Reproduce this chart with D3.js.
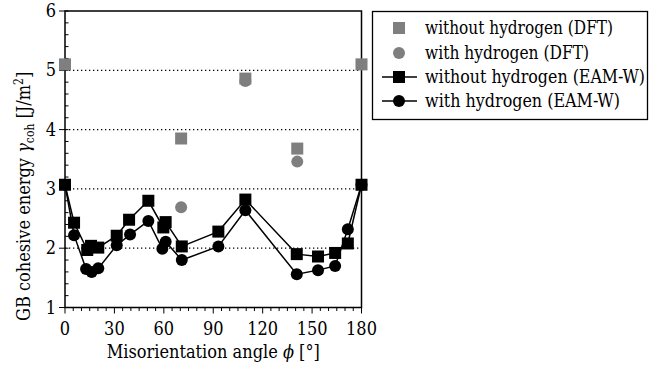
<!DOCTYPE html>
<html>
<head>
<meta charset="utf-8">
<title>GB cohesive energy</title>
<style>
	body{margin:0;background:#fff;}
</style>
</head>
<body>
<div id="chart"></div>
<script src="https://d3js.org/d3.v7.min.js"></script>
<script type="text/javascript">

// DFT points
var dftNoHAngle = [0, 70.5, 109.5, 141, 180],
	dftNoH = [5.1, 3.85, 4.86, 3.68, 5.1],
	dftHAngle = [70.5, 109.5, 141],
	dftH = [2.69, 4.82, 3.46];

// EAM-W curves
var eamAngle = [0, 5.5, 13.5, 15.8, 20.2, 31.4, 38.9, 50.6, 59.7, 61.1, 70.9, 93.1, 109.5, 140.7, 153.6, 164, 171.7, 180],
	eamNoH = [3.07, 2.43, 1.97, 2.04, 2.01, 2.21, 2.48, 2.80, 2.35, 2.44, 2.03, 2.28, 2.82, 1.90, 1.86, 1.92, 2.08, 3.07],
	eamHAngle = [0, 5.5, 12.8, 16.2, 20.2, 31.4, 39.5, 50.6, 59.1, 61.1, 70.9, 93.1, 109.5, 140.7, 153.6, 164, 171.7, 180],
	eamH = [3.07, 2.22, 1.65, 1.60, 1.66, 2.05, 2.23, 2.46, 1.99, 2.11, 1.80, 2.03, 2.64, 1.56, 1.63, 1.70, 2.32, 3.07];

var xTicks = [0, 30, 60, 90, 120, 150, 180],
	yTicks = [1, 2, 3, 4, 5, 6],
	gridVals = [2, 3, 4, 5];

var legendLabels = ['without hydrogen (DFT)', 'with hydrogen (DFT)', 'without hydrogen (EAM-W)', 'with hydrogen (EAM-W)'],
	legendWidths = [188, 164, 220, 195];

var W = 649, H = 369,
	gray = '#7f7f7f',
	serif = "'DejaVu Serif Condensed', 'DejaVu Serif'";

var svg = d3.select('#chart').append('svg').attr('width', W).attr('height', H)
	.style('font-family', serif);

var x = d3.scaleLinear().domain([0, 180]).range([65, 361.5]),
	y = d3.scaleLinear().domain([1, 6]).range([307.5, 11]);

// dotted grid
svg.append('g').selectAll('line').data(gridVals).enter().append('line')
	.attr('x1', x(0)).attr('x2', x(180))
	.attr('y1', function(d){ return y(d); }).attr('y2', function(d){ return y(d); })
	.attr('stroke', '#000').attr('stroke-width', 1.3).attr('stroke-dasharray', '1.3,2.7');

// minor ticks
var xMinor = d3.range(0, 181, 5), yMinor = d3.range(1, 6.01, 0.2);
svg.append('g').selectAll('line').data(xMinor).enter().append('line')
	.attr('x1', function(d){ return x(d); }).attr('x2', function(d){ return x(d); })
	.attr('y1', y(1)).attr('y2', function(d){ return d % 30 === 0 ? y(1) + 6 : y(1) + 3.5; })
	.attr('stroke', '#000').attr('stroke-width', 1);
svg.append('g').selectAll('line').data(yMinor).enter().append('line')
	.attr('y1', function(d){ return y(d); }).attr('y2', function(d){ return y(d); })
	.attr('x1', function(d){ return Math.abs(d - Math.round(d)) < 1e-6 ? x(0) - 6 : x(0); })
	.attr('x2', x(0) + 3.5)
	.attr('stroke', '#000').attr('stroke-width', 1);

// frame
svg.append('rect').attr('x', x(0)).attr('y', y(6))
	.attr('width', x(180) - x(0)).attr('height', y(1) - y(6))
	.attr('fill', 'none').attr('stroke', '#000').attr('stroke-width', 1.5);

// tick labels
svg.append('g').selectAll('text').data(xTicks).enter().append('text')
	.attr('x', function(d){ return x(d); }).attr('y', 335)
	.attr('text-anchor', 'middle').style('font-size', '18px')
	.text(function(d){ return d; });
svg.append('g').selectAll('text').data(yTicks).enter().append('text')
	.attr('x', 56).attr('y', function(d){ return y(d) + 6; })
	.attr('text-anchor', 'end').style('font-size', '18px')
	.text(function(d){ return d; });

// axis titles
var xl = svg.append('text').attr('x', x(90)).attr('y', 358).attr('text-anchor', 'middle').style('font-size', '18px');
xl.append('tspan').text('Misorientation angle ');
xl.append('tspan').attr('font-style', 'italic').text('ϕ');
xl.append('tspan').text(' [°]');
var yl = svg.append('text').attr('transform', 'translate(30,321) rotate(-90)')
	.style('font-size', '18px');
yl.append('tspan').text('GB cohesive energy ');
yl.append('tspan').attr('font-style', 'italic').text('γ');
yl.append('tspan').attr('dy', 4).style('font-size', '12px').text('coh');
yl.append('tspan').attr('dy', -4).text(' [J/m');
yl.append('tspan').attr('dy', -7).style('font-size', '12px').text('2');
yl.append('tspan').attr('dy', 7).text(']');

// EAM lines
var line = d3.line();
function pts(a, v){ return a.map(function(d, i){ return [x(d), y(v[i])]; }); }
svg.append('path').attr('d', line(pts(eamAngle, eamNoH))).attr('fill', 'none').attr('stroke', '#000').attr('stroke-width', 1.5);
svg.append('path').attr('d', line(pts(eamHAngle, eamH))).attr('fill', 'none').attr('stroke', '#000').attr('stroke-width', 1.5);

// DFT markers
svg.append('g').selectAll('circle').data(pts(dftHAngle, dftH)).enter().append('circle')
	.attr('cx', function(d){ return d[0]; }).attr('cy', function(d){ return d[1]; })
	.attr('r', 6).attr('fill', gray);
svg.append('g').selectAll('rect').data(pts(dftNoHAngle, dftNoH)).enter().append('rect')
	.attr('x', function(d){ return d[0] - 6; }).attr('y', function(d){ return d[1] - 6; })
	.attr('width', 12).attr('height', 12).attr('fill', gray);

// EAM markers
svg.append('g').selectAll('circle').data(pts(eamHAngle, eamH)).enter().append('circle')
	.attr('cx', function(d){ return d[0]; }).attr('cy', function(d){ return d[1]; })
	.attr('r', 6).attr('fill', '#000');
svg.append('g').selectAll('rect').data(pts(eamAngle, eamNoH)).enter().append('rect')
	.attr('x', function(d){ return d[0] - 6; }).attr('y', function(d){ return d[1] - 6; })
	.attr('width', 12).attr('height', 12).attr('fill', '#000');

// legend
var lg = svg.append('g');
lg.append('rect').attr('x', 372.5).attr('y', 11.5).attr('width', 275).attr('height', 108)
	.attr('fill', '#fff').attr('stroke', '#000').attr('stroke-width', 1.3);
var rowY = [28, 53, 77, 101], mx = 399;
legendLabels.forEach(function(t, i){
	var yy = rowY[i];
	if(i >= 2) lg.append('line').attr('x1', 382).attr('x2', 417).attr('y1', yy).attr('y2', yy).attr('stroke', '#000').attr('stroke-width', 1.5);
	var c = i < 2 ? gray : '#000';
	if(i % 2 === 0) lg.append('rect').attr('x', mx - 6).attr('y', yy - 6).attr('width', 12).attr('height', 12).attr('fill', c);
	else lg.append('circle').attr('cx', mx).attr('cy', yy).attr('r', 6).attr('fill', c);
	lg.append('text').attr('x', 425).attr('y', yy + 6).style('font-size', '18px')
		.attr('textLength', legendWidths[i]).attr('lengthAdjust', 'spacingAndGlyphs').text(t);
});
</script>
</body>
</html>
